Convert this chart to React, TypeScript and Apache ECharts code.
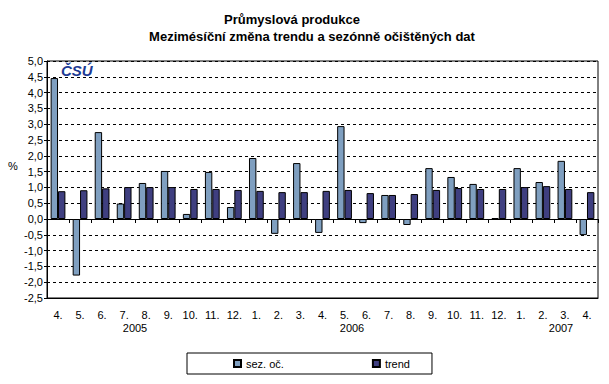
import React, { useEffect, useRef } from "react";
import * as echarts from "echarts";

const months = ["4.", "5.", "6.", "7.", "8.", "9.", "10.", "11.", "12.", "1.", "2.", "3.", "4.", "5.", "6.", "7.", "8.", "9.", "10.", "11.", "12.", "1.", "2.", "3.", "4."];
const sezOc = [4.46, -1.79, 2.75, 0.49, 1.14, 1.52, 0.16, 1.49, 0.38, 1.93, -0.47, 1.77, -0.44, 2.94, -0.13, 0.76, -0.19, 1.61, 1.33, 1.11, 0.03, 1.61, 1.17, 1.84, -0.51];
const trend = [0.88, 0.91, 0.97, 1.01, 1.01, 1.01, 0.95, 0.95, 0.92, 0.89, 0.85, 0.85, 0.89, 0.92, 0.82, 0.76, 0.79, 0.92, 0.98, 0.95, 0.95, 1.01, 1.04, 0.95, 0.85];
const years = [
  { text: "2005", x: 135 },
  { text: "2006", x: 352 },
  { text: "2007", x: 561 },
];
const titleLine1 = "Průmyslová produkce";
const titleLine2 = "Mezimésíční změna trendu a sezónně očištěných dat";

const FONT = "'Liberation Sans', Arial, sans-serif";

export default function App() {
  const ref = useRef<HTMLDivElement>(null);
  useEffect(() => {
    if (!ref.current) return;
    const chart = echarts.init(ref.current, undefined, { renderer: "svg" });
    chart.setOption({
      animation: false,
      backgroundColor: "#ffffff",
      textStyle: { fontFamily: FONT },
      legend: {
        left: 187,
        top: 353,
        width: 242,
        itemWidth: 7,
        itemHeight: 7,
        itemGap: 88,
        padding: [5, 22, 5, 46],
        borderColor: "#000",
        borderWidth: 1,
        icon: "rect",
        textStyle: { fontSize: 11, color: "#000", fontFamily: FONT },
        data: ["sez. oč.", "trend"],
      },
      grid: {
        left: 47,
        right: 11,
        top: 61,
        bottom: 86,
        show: true,
        borderColor: "#000",
        borderWidth: 1,
        containLabel: false,
      },
      xAxis: [
        {
          type: "category",
          data: months,
          axisLine: { onZero: true, lineStyle: { color: "#000", width: 1 } },
          axisTick: { show: true, length: 4, lineStyle: { color: "#000" } },
          axisLabel: { show: false },
          splitLine: { show: false },
        },
        {
          type: "category",
          data: months,
          position: "bottom",
          axisLine: { show: true, onZero: false, lineStyle: { color: "#000", width: 1 } },
          axisTick: { show: false },
          axisLabel: { show: true, margin: 11, fontSize: 11, color: "#000", fontFamily: FONT },
        },
      ],
      yAxis: {
        type: "value",
        min: -2.5,
        max: 5,
        interval: 0.5,
        axisLine: { show: true, lineStyle: { color: "#000" } },
        axisTick: { show: true, length: 3, lineStyle: { color: "#000" } },
        axisLabel: {
          margin: 4,
          fontSize: 11,
          color: "#000",
          fontFamily: FONT,
          formatter: (v: number) => v.toFixed(1).replace(".", ","),
        },
        splitLine: { show: true, lineStyle: { color: "#000", type: [3, 3], width: 1 } },
      },
      series: [
        {
          name: "sez. oč.",
          type: "bar",
          data: sezOc,
          xAxisIndex: 0,
          barGap: "0%",
          barCategoryGap: "33%",
          itemStyle: { color: "#7f9fc0", borderColor: "#000", borderWidth: 1 },
        },
        {
          name: "trend",
          type: "bar",
          data: trend,
          xAxisIndex: 0,
          barGap: "0%",
          barCategoryGap: "33%",
          itemStyle: { color: "#3f3f80", borderColor: "#000", borderWidth: 1 },
        },
      ],
      graphic: [
        {
          type: "text",
          x: 292,
          y: 19,
          style: {
            text: titleLine1,
            font: `bold 13px ${FONT}`,
            fill: "#000",
            align: "center",
            verticalAlign: "middle",
          },
        },
        {
          type: "text",
          x: 312,
          y: 36,
          style: {
            text: titleLine2,
            font: `bold 13px ${FONT}`,
            fill: "#000",
            align: "center",
            verticalAlign: "middle",
          },
        },
        {
          type: "text",
          left: 61,
          top: 63,
          style: {
            text: "ČSÚ",
            font: `italic bold 15px ${FONT}`,
            fill: "#1c3a94",
          },
        },
        {
          type: "text",
          left: 8,
          top: 160,
          style: { text: "%", font: `11px ${FONT}`, fill: "#000" },
        },
        ...years.map((y) => ({
          type: "text",
          x: y.x,
          y: 328,
          style: {
            text: y.text,
            font: `11px ${FONT}`,
            fill: "#000",
            align: "center",
            verticalAlign: "middle",
          },
        })),
      ],
    });
    return () => chart.dispose();
  }, []);
  return (
    <div
      ref={ref}
      style={{ position: "fixed", left: 0, top: 0, width: 609, height: 384 }}
    />
  );
}
